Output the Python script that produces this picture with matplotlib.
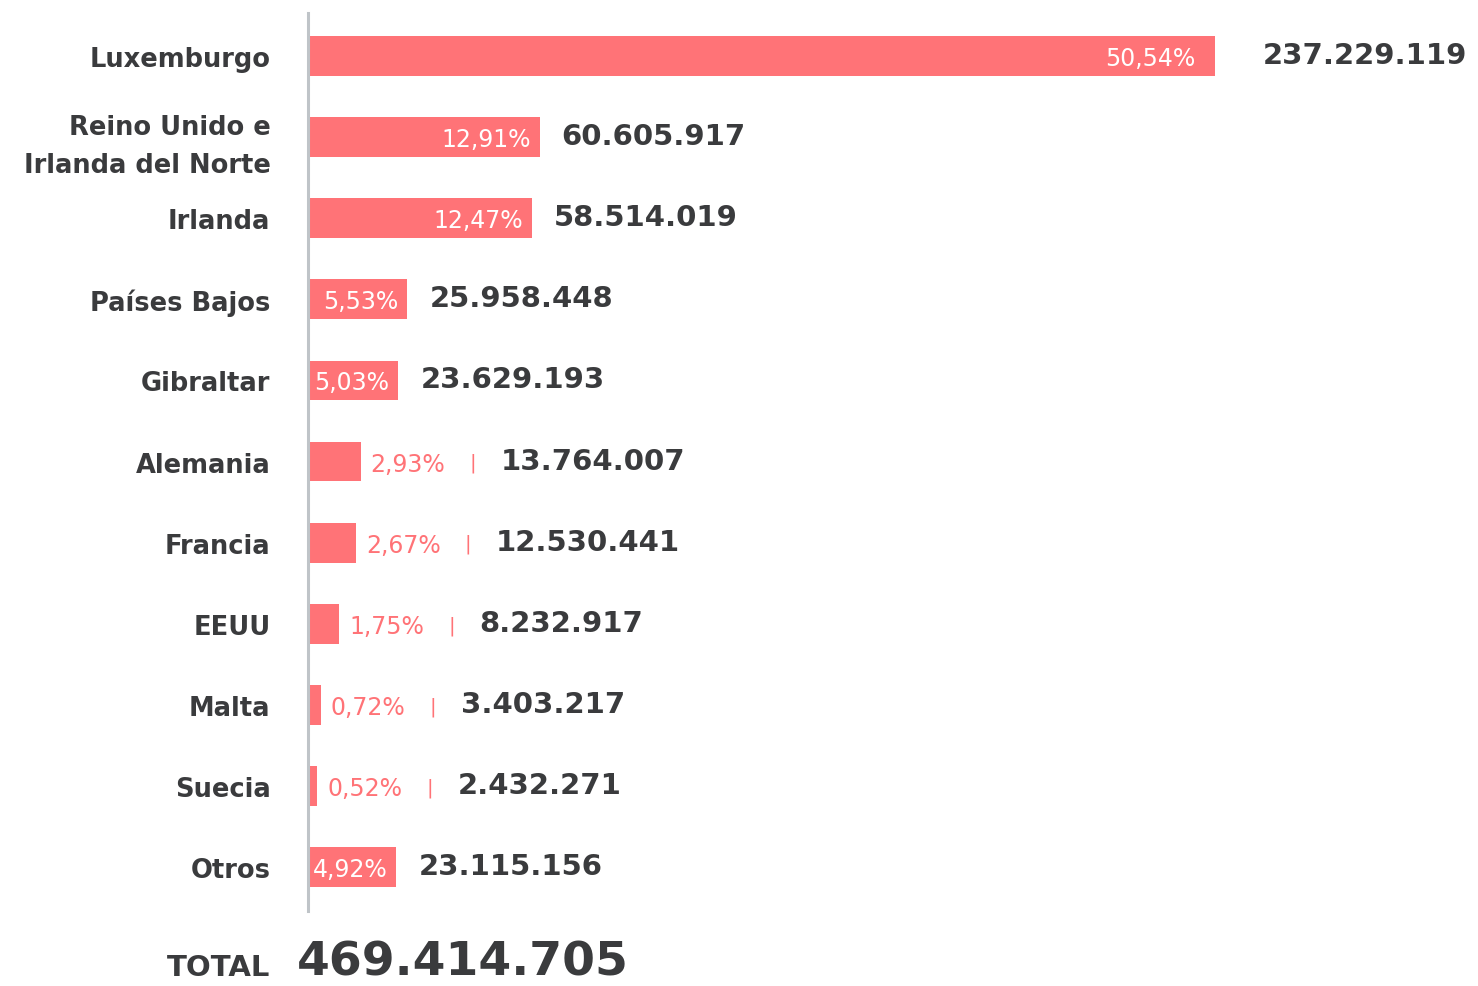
import matplotlib
matplotlib.use('Agg')
import matplotlib.pyplot as plt

# data
countries = ['Luxemburgo', 'Reino Unido e\nIrlanda del Norte', 'Irlanda', 'Países Bajos',
             'Gibraltar', 'Alemania', 'Francia', 'EEUU', 'Malta', 'Suecia', 'Otros']
shares = [50.54, 12.91, 12.47, 5.53, 5.03, 2.93, 2.67, 1.75, 0.72, 0.52, 4.92]
amounts = ['237.229.119', '60.605.917', '58.514.019', '25.958.448', '23.629.193',
           '13.764.007', '12.530.441', '8.232.917', '3.403.217', '2.432.271', '23.115.156']
total_label = 'TOTAL'
total_amount = '469.414.705'

BAR = '#ff7377'
DARK = '#3a3b3d'
AXIS = '#bfc4c8'

plt.rcParams['font.family'] = ['DejaVu Sans']

W, H = 1478, 987
fig = plt.figure(figsize=(W / 100, H / 100), dpi=100)
ax = fig.add_axes([308 / W, 1 - 912 / H, 1 - 308 / W, (912 - 14) / H])

pos = list(range(len(countries)))
ax.barh(pos, shares, height=0.49, color=BAR, zorder=2)
ax.set_xlim(0, (W - 308) / 17.95)
ax.set_ylim(len(countries) - 0.46, -0.53)

for s in ['top', 'right', 'bottom']:
    ax.spines[s].set_visible(False)
ax.spines['left'].set_color(AXIS)
ax.spines['left'].set_linewidth(2.2)
ax.set_xticks([])
ax.set_yticks(pos)
ax.set_yticklabels(countries, fontsize=18.5, fontweight='bold', color=DARK, linespacing=1.6)
ax.tick_params(axis='y', length=0, pad=27)

for i, (s, a) in enumerate(zip(shares, amounts)):
    pct = f'{s:.2f}%'.replace('.', ',')
    if s > 4:
        inset = -20 if i == 0 else -9
        ax.annotate(pct, (s, i), xytext=(inset, -2), textcoords='offset pixels',
                    ha='right', va='center', fontsize=17, color='white')
        gap = 48 if i == 0 else 22
        ax.annotate(a, (s, i), xytext=(gap, 1), textcoords='offset pixels',
                    ha='left', va='center', fontsize=21, color=DARK, fontweight='bold')
    else:
        ax.annotate(pct, (s, i), xytext=(10, -2), textcoords='offset pixels',
                    ha='left', va='center', fontsize=17, color=BAR)
        ax.annotate('|', (s, i), xytext=(112, -1), textcoords='offset pixels',
                    ha='center', va='center', fontsize=14, color=BAR)
        ax.annotate(a, (s, i), xytext=(140, 1), textcoords='offset pixels',
                    ha='left', va='center', fontsize=21, color=DARK, fontweight='bold')

# total row below the bars
fig.text(270 / W, 1 - 976 / H, total_label, ha='right', va='baseline',
         fontsize=21, fontweight='bold', color=DARK)
fig.text(297 / W, 1 - 976 / H, total_amount, ha='left', va='baseline',
         fontsize=34, fontweight='bold', color=DARK)

fig.savefig('out.png', dpi=100, facecolor='white')
